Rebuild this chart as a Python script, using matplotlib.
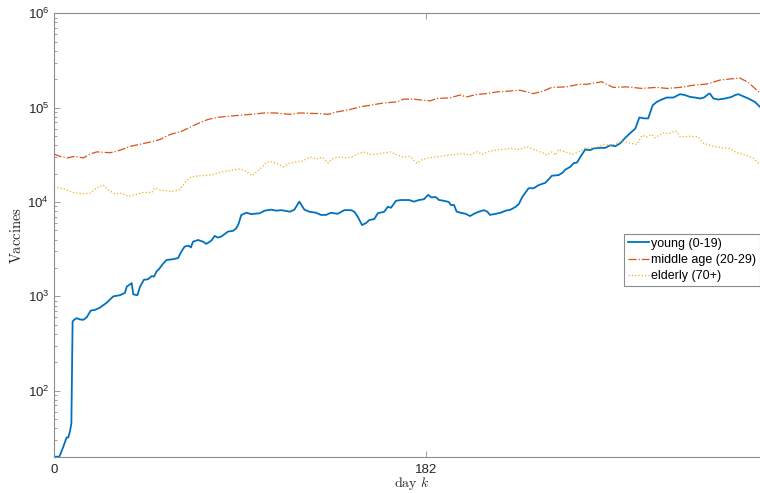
import matplotlib
matplotlib.use("Agg")
import matplotlib.pyplot as plt

# daily vaccinations per age group (log scale)
young_day = [0, 2.6, 4.4, 6.2, 7.0, 7.8, 8.5, 9.1, 9.8, 11.1, 12.7, 14.3, 16.0, 18.0, 20.1,
             22.5, 25.8, 29.0, 32.3, 34.7, 35.6, 38.0, 38.8, 40.8, 42.1, 44.0, 46.0, 47.8,
             48.9, 50.2, 51.4, 53.5, 55.1, 58.4, 60.7, 62.3, 63.9, 65.9, 67.0, 68.0, 70.5,
             72.9, 74.5, 77.0, 78.6, 80.2, 81.8, 85.1, 87.6, 89.2, 90.4, 91.6, 94.1, 96.5,
             100.6, 103.1, 106.3, 108.8, 111.2, 115.5, 117.6, 120.0, 122.5, 124.9, 128.2,
             130.6, 133.1, 135.5, 138.8, 142.0, 145.3, 146.9, 148.6, 150.7, 152.6, 154.3,
             156.7, 158.4, 161.6, 163.3, 164.9, 167.3, 169.8, 173.7, 176.1, 178.6, 181.0,
             183.0, 184.6, 186.7, 188.4, 190.8, 193.2, 194.1, 195.7, 197.0, 199.0, 201.4,
             203.5, 205.5, 207.9, 210.4, 212.0, 213.3, 216.1, 218.5, 221.0, 223.4, 225.9,
             227.5, 229.1, 232.2, 234.7, 237.1, 240.4, 242.0, 243.6, 246.9, 248.9, 250.1,
             252.6, 254.2, 255.9, 257.5, 259.9, 262.4, 264.0, 267.3, 269.7, 272.2, 274.6,
             277.1, 279.5, 282.0, 284.4, 286.4, 288.6, 290.7, 292.9, 294.9, 297.3, 299.8,
             303.0, 306.3, 308.7, 311.2, 313.6, 316.0, 318.0, 320.1, 320.9, 322.6, 325.0,
             328.3, 331.6, 333.2, 334.8, 337.2, 339.7, 342.9, 345.4]
young = [20, 20, 25, 32, 32, 37, 45, 541, 564, 588, 570, 564, 600, 708, 720,
         760, 858, 1000, 1030, 1090, 1270, 1380, 1050, 1030, 1270, 1500, 1520, 1640,
         1620, 1840, 1950, 2240, 2430, 2480, 2550, 2980, 3370, 3450, 3300, 3800, 3960,
         3800, 3600, 3900, 4370, 4200, 4300, 4860, 4950, 5270, 5950, 7280, 7700, 7450,
         7600, 8100, 8300, 8100, 8200, 7900, 8300, 10100, 8300, 7900, 7700,
         7300, 7300, 7700, 7500, 8200, 8200, 7900, 7000, 5700, 5970, 6450,
         6600, 7600, 7900, 8900, 8700, 10300, 10500, 10500, 10100, 10500, 10700,
         11900, 11200, 11300, 10500, 10300, 10000, 9300, 9300, 7900, 7700, 7500,
         7100, 7500, 7900, 8200, 7900, 7300, 7500, 7700, 8100, 8300, 8900,
         9600, 11300, 14000, 14000, 15100, 16000, 17400, 19000, 19300, 20500, 22000,
         23600, 25800, 26200, 30000, 36000, 35500, 37000, 37500, 37500, 40000, 39000,
         42000, 48000, 54000, 60000, 78700, 77000, 77000, 106000, 115000, 122000, 128000,
         128000, 139000, 136000, 130000, 128000, 125000, 128000, 139000, 141000, 125000, 122000,
         125000, 130000, 136000, 139000, 132000, 125000, 115000, 102000]

middle_day = [0, 2.9, 6.2, 10.3, 14.3, 17.6, 20.9, 27.4, 30.7, 34.7, 37.2, 42.1, 47.0,
              51.9, 56.8, 62.3, 67.2, 70.5, 75.3, 80.2, 85.1, 90.9, 96.5, 103.1, 108.0,
              111.2, 115.5, 120.4, 125.2, 130.1, 134.2, 138.3, 144.8, 149.7, 154.6, 161.1,
              167.7, 170.9, 175.8, 180.7, 184.0, 187.2, 193.7, 198.6, 201.9, 206.8, 211.7,
              216.6, 223.1, 228.0, 231.3, 234.5, 239.4, 243.5, 250.8, 256.7, 260.6, 268.0,
              273.6, 280.2, 287.5, 294.9, 299.8, 306.3, 312.8, 319.3, 325.8, 332.3, 335.6,
              339.7, 342.9, 345.4]
middle = [32200, 30500, 29300, 30500, 29300, 32200, 34000, 33300, 34500, 37000, 38900, 40900, 43200,
          46000, 52000, 56000, 63000, 68000, 75000, 79000, 81000, 83000, 85000, 88000, 88000,
          86500, 85000, 88000, 87000, 86500, 85000, 90000, 95600, 102000, 106000, 112000,
          115000, 123000, 123000, 120000, 118000, 125000, 127000, 136000, 130000, 138000, 141000,
          147000, 150000, 153000, 147000, 141000, 150000, 164000, 166000, 177000, 177000, 188000,
          164000, 166000, 160000, 164000, 160000, 164000, 173000, 178000, 196000, 203000, 206000,
          185000, 160000, 143000]

elderly_day = [0, 3.8, 6.2, 9.4, 13.6, 17.6, 20.9, 24.1, 26.6, 29.8, 33.1, 36.3, 39.6, 43.7,
               47.8, 49.4, 51.9, 54.8, 57.6, 61.6, 64.8, 67.2, 71.4, 77.0, 81.8, 86.7, 91.0,
               94.3, 96.6, 99.1, 102.3, 103.9, 106.3, 109.6, 112.2, 114.6, 118.7, 122.0, 125.2,
               128.5, 131.1, 134.2, 136.7, 139.9, 143.2, 145.6, 148.1, 151.3, 154.6, 157.9,
               161.1, 164.4, 167.7, 170.9, 174.2, 177.5, 179.9, 184.0, 188.8, 193.7, 200.2,
               203.5, 206.9, 209.5, 213.6, 218.5, 223.4, 227.5, 231.3, 235.5, 239.4, 241.2,
               243.6, 245.3, 246.9, 250.1, 253.4, 256.7, 259.9, 263.2, 265.7, 268.9, 273.0,
               276.3, 278.7, 281.9, 285.2, 287.7, 290.0, 292.4, 294.0, 298.1, 300.4, 304.3,
               306.3, 311.2, 315.2, 317.6, 322.6, 327.5, 330.7, 333.2, 337.2, 342.1, 345.4]
elderly = [14500, 14000, 13400, 12600, 12200, 12400, 14100, 15200, 13400, 12200, 12400, 11500, 11900, 12600,
           12600, 14100, 13400, 13200, 12900, 13600, 17000, 18500, 19000, 19300, 20800, 21700, 22400,
           21000, 19000, 20800, 24000, 26500, 26700, 25300, 23600, 25500, 26700, 27400, 30000,
           28500, 30000, 26000, 29300, 30000, 29300, 30000, 32000, 34000, 32000, 32200,
           33000, 34000, 31500, 30000, 30500, 25800, 28000, 29500, 30500, 31500, 32600,
           31500, 34000, 32000, 34800, 36000, 37000, 36000, 38500, 35500, 33000, 31500,
           34000, 31500, 36000, 34000, 32000, 34000, 37500, 37500, 38000, 40800, 40000,
           43000, 44000, 42000, 40800, 51000, 49000, 52000, 48000, 54000, 53000, 56500,
           49000, 49800, 49000, 42000, 39000, 37500, 37000, 34000, 32000, 29300, 25000]

x_ticks = [0, 182]

plt.rcParams['font.family'] = ['Liberation Sans', 'DejaVu Sans']
plt.rcParams['mathtext.fontset'] = 'custom'
plt.rcParams['mathtext.rm'] = 'Liberation Sans'
plt.rcParams['mathtext.it'] = 'Liberation Sans:italic'

fig = plt.figure(figsize=(7.6, 4.93), dpi=100)
# x axis runs to day 364, past the right edge of the canvas
ax = fig.add_axes([54 / 760, 36.3 / 493, 744 / 760, 443.4 / 493])

ax.plot(young_day, young, color='#0072BD', lw=1.3, ls='-', label='young (0-19)')
ax.plot(middle_day, middle, color='#D95319', lw=0.9, ls='-.', label='middle age (20-29)')
ax.plot(elderly_day, elderly, color='#EDB120', lw=0.9, ls=':', label='elderly (70+)')

ax.set_yscale('log')
ax.set_ylim(20, 1e6)
ax.set_xlim(0, 364)
ax.set_xticks(x_ticks)

for s in ax.spines.values():
    s.set_color('#8c8c8c')
    s.set_linewidth(0.8)
ax.tick_params(which='both', direction='in', top=True, right=True,
               colors='#8c8c8c', labelcolor='#262626', labelsize=9.5)
ax.tick_params(which='major', length=4.5, width=0.6)
ax.tick_params(which='minor', length=2.5, width=0.6)
ax.tick_params(axis='x', pad=5)

ax.set_ylabel(r'$\mathrm{Vaccines}$', fontsize=10.5, math_fontfamily='cm', color='#262626')
ax.set_xlabel(r'$\mathrm{day}\ k$', fontsize=10, math_fontfamily='cm', color='#262626')
ax.yaxis.set_label_coords(-0.040, 0.5)
ax.xaxis.set_label_coords(0.481, -0.041)

leg = ax.legend(loc='upper left', bbox_to_anchor=(624 / 760, 1 - 234 / 493),
                bbox_transform=fig.transFigure, borderaxespad=0, fontsize=9,
                frameon=True, fancybox=False, framealpha=1, edgecolor='#8c8c8c',
                handlelength=1.7, handletextpad=0.15, labelspacing=0.35,
                borderpad=0.3)
leg.get_frame().set_linewidth(0.8)

fig.savefig('out.png', dpi=100)
